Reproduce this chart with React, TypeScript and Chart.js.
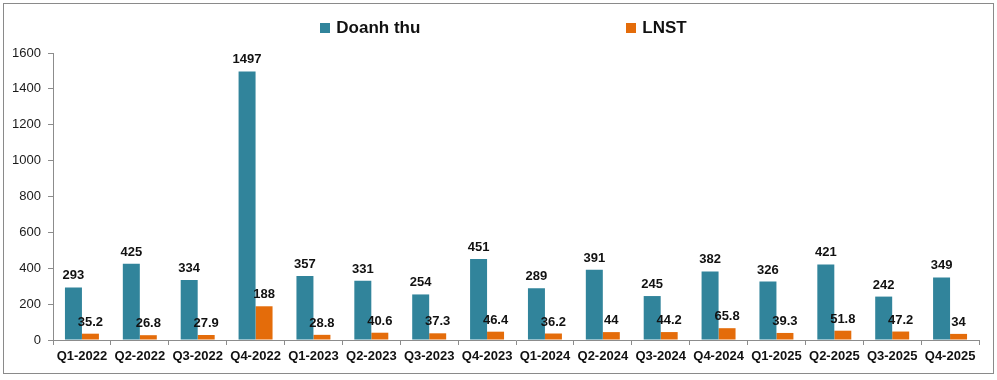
import React, { useEffect, useRef } from "react";
import { Chart, registerables } from "chart.js";

Chart.register(...registerables);

const categories = [
  "Q1-2022", "Q2-2022", "Q3-2022", "Q4-2022",
  "Q1-2023", "Q2-2023", "Q3-2023", "Q4-2023",
  "Q1-2024", "Q2-2024", "Q3-2024", "Q4-2024",
  "Q1-2025", "Q2-2025", "Q3-2025", "Q4-2025",
];
const revenue = [293, 425, 334, 1497, 357, 331, 254, 451, 289, 391, 245, 382, 326, 421, 242, 349];
const profit = [35.2, 26.8, 27.9, 188, 28.8, 40.6, 37.3, 46.4, 36.2, 44, 44.2, 65.8, 39.3, 51.8, 47.2, 34];
const seriesNames = ["Doanh thu", "LNST"];
const seriesColors = ["#31849B", "#E46C0A"];
const yTicks = { min: 0, max: 1600, step: 200 };

const FONT = "'Liberation Sans', Arial, sans-serif";

const labelPlugin = {
  id: "barLabels",
  afterDatasetsDraw(chart: any) {
    const ctx = chart.ctx;
    ctx.save();
    ctx.font = `bold 13px ${FONT}`;
    ctx.fillStyle = "#111";
    ctx.textAlign = "center";
    ctx.textBaseline = "alphabetic";
    chart.data.datasets.forEach((ds: any, i: number) => {
      const meta = chart.getDatasetMeta(i);
      meta.data.forEach((el: any, j: number) => {
        ctx.fillText(String(ds.data[j]), el.x, el.y - 8);
      });
    });
    ctx.restore();
  },
};

export default function App() {
  const ref = useRef<HTMLCanvasElement>(null);
  useEffect(() => {
    document.body.style.margin = "0";
    const chart = new Chart(ref.current!, {
      type: "bar",
      data: {
        labels: categories,
        datasets: [
          { label: seriesNames[0], data: revenue, backgroundColor: seriesColors[0], categoryPercentage: 0.587, barPercentage: 1 },
          { label: seriesNames[1], data: profit, backgroundColor: seriesColors[1], categoryPercentage: 0.587, barPercentage: 1 },
        ],
      },
      options: {
        animation: false,
        responsive: false,
        maintainAspectRatio: false,
        layout: { padding: { left: 0, right: 18, top: 53, bottom: 0 } },
        plugins: { legend: { display: false }, tooltip: { enabled: false } },
        scales: {
          x: {
            afterFit: (s: any) => { s.height = 40; },
            grid: { offset: true, drawOnChartArea: false, drawTicks: true, tickLength: 5, color: "#8c8c8c" },
            border: { display: true, color: "#8c8c8c" },
            ticks: { font: { family: FONT, size: 13, weight: "bold" }, color: "#111", padding: 4, maxRotation: 0, autoSkip: false },
          },
          y: {
            min: yTicks.min,
            max: yTicks.max,
            afterFit: (s: any) => { s.width = 53; },
            grid: { drawOnChartArea: false, drawTicks: true, tickLength: 5, color: "#8c8c8c" },
            border: { display: true, color: "#8c8c8c" },
            ticks: { stepSize: yTicks.step, font: { family: FONT, size: 13 }, color: "#1a1a1a", padding: 7, callback: (v: any) => String(v) },
          },
        },
      },
      plugins: [labelPlugin],
    });
    return () => chart.destroy();
  }, []);

  return (
    <div style={{ position: "relative", width: 997, height: 380, background: "#fff" }}>
      <canvas ref={ref} width={997} height={380} style={{ position: "absolute", left: 0, top: 0 }} />
      <div style={{ position: "absolute", left: 3, top: 3, width: 991, height: 371, boxSizing: "border-box", border: "1px solid #8a8a8a", pointerEvents: "none" }} />
      <div style={{ position: "absolute", left: 0, right: 0, top: 18, display: "flex", justifyContent: "center", gap: 206, fontFamily: FONT, fontWeight: "bold", fontSize: 17, color: "#111", lineHeight: "20px", paddingLeft: 10 }}>
        {seriesNames.map((n, i) => (
          <div key={n} style={{ display: "flex", alignItems: "center" }}>
            <span style={{ display: "inline-block", width: 10, height: 10, background: seriesColors[i], marginRight: 6 }} />
            <span>{n}</span>
          </div>
        ))}
      </div>
    </div>
  );
}
